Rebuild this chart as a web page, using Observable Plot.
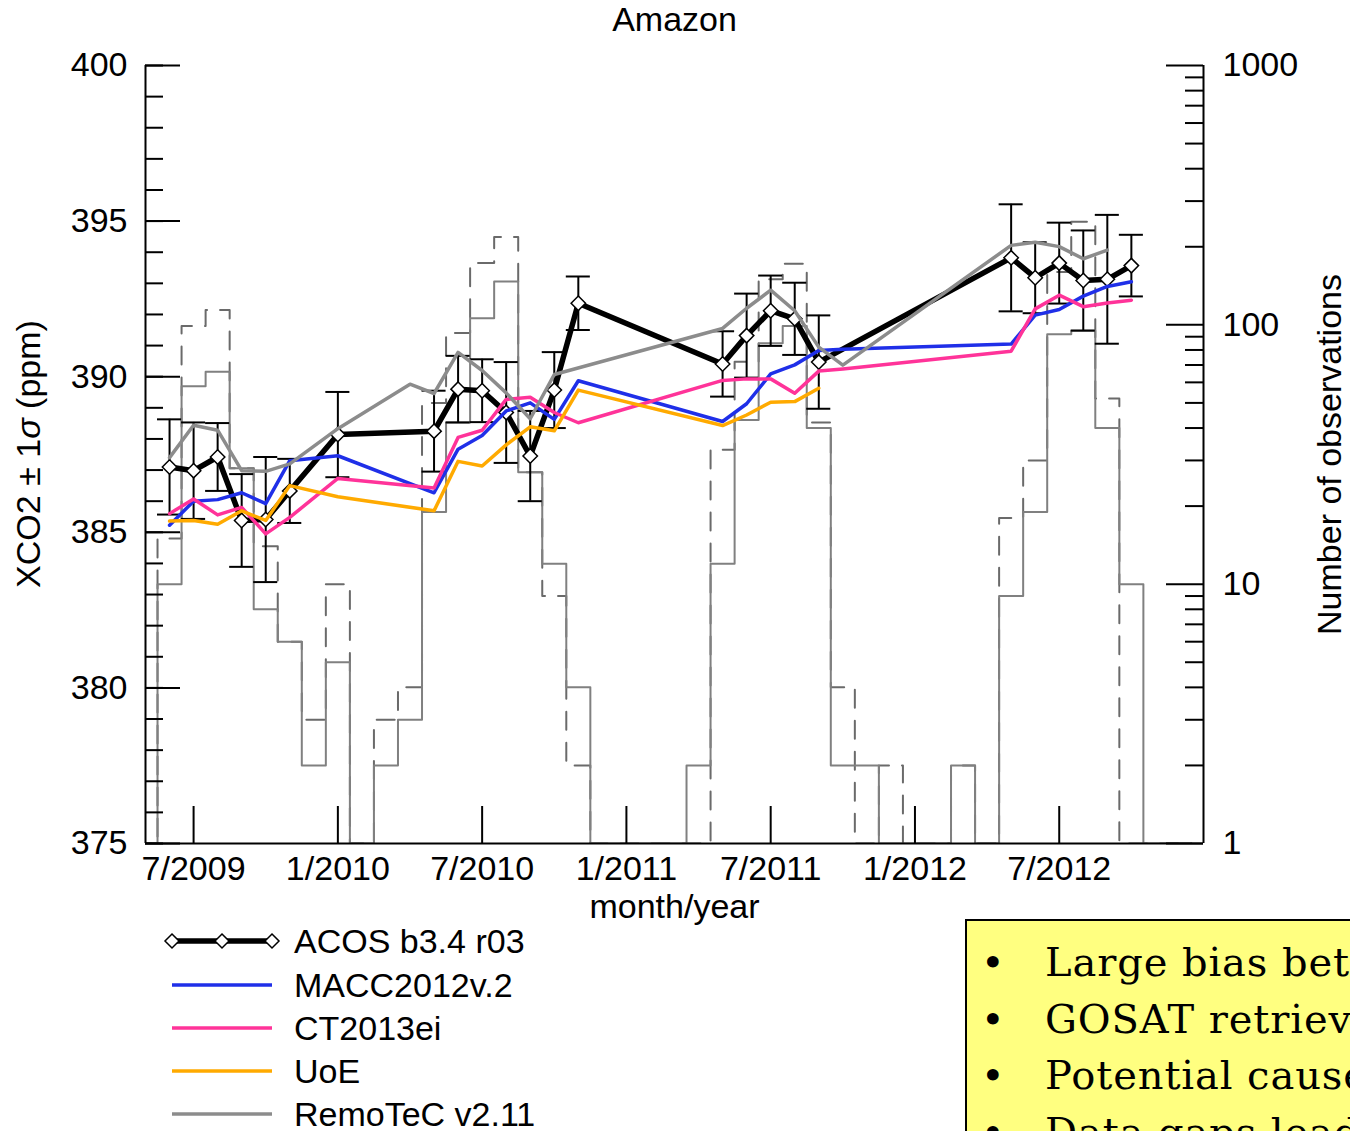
<!DOCTYPE html>
<html>
<head>
<meta charset="utf-8">
<script src="https://cdn.jsdelivr.net/npm/d3@7"></script>
<script src="https://cdn.jsdelivr.net/npm/@observablehq/plot@0.6"></script>
<style>
  html, body { margin: 0; padding: 0; background: #fff; overflow: hidden; }
  #wrap { position: relative; width: 1350px; height: 1131px; overflow: hidden; font-family: "Liberation Sans", Arial, sans-serif; }
  #wrap svg { position: absolute; left: 0; top: 0; max-width: none; }
  #ylab { position: absolute; left: 28px; top: 454px; transform: translate(-50%, -50%) rotate(-90deg); font-size: 34px; white-space: nowrap; color: #000; }
  #box { position: absolute; left: 965px; top: 919px; width: 600px; height: 400px; background: #ffff80; border: 2.5px solid #000; font-family: "DejaVu Serif", serif; font-size: 40px; letter-spacing: 0.9px; color: #000; }
  #box .b { position: absolute; line-height: 1; white-space: nowrap; }
</style>
</head>
<body>
<div id="wrap"></div>
<script>
// ---------- data ----------
// month labels as YYYY-MM
const acosMonths = ["2009-06","2009-07","2009-08","2009-09","2009-10","2009-11","2010-01",
  "2010-05","2010-06","2010-07","2010-08","2010-09","2010-10","2010-11",
  "2011-05","2011-06","2011-07","2011-08","2011-09",
  "2012-05","2012-06","2012-07","2012-08","2012-09","2012-10"];
const acosXCO2 = [387.10, 386.98, 387.42, 385.38, 385.41, 386.33, 388.14,
  388.25, 389.60, 389.55, 388.85, 387.45, 389.57, 392.36,
  390.41, 391.32, 392.12, 391.86, 390.47,
  393.82, 393.18, 393.65, 393.09, 393.13, 393.57];
const acosSigma = [1.53, 1.55, 1.09, 1.49, 2.01, 1.03, 1.37,
  1.30, 1.07, 1.01, 1.62, 1.45, 1.22, 0.86,
  1.05, 1.35, 1.13, 1.16, 1.50,
  1.72, 1.14, 1.30, 1.61, 2.07, 0.99];

const modelMonths = ["2009-06","2009-07","2009-08","2009-09","2009-10","2009-11","2010-01",
  "2010-05","2010-06","2010-07","2010-08","2010-09","2010-10","2010-11",
  "2011-05","2011-06","2011-07","2011-08","2011-09","2011-10",
  "2012-05","2012-06","2012-07","2012-08","2012-09","2012-10"];
const maccXCO2 = [385.23, 386.00, 386.05, 386.27, 385.92, 387.30, 387.46,
  386.27, 387.67, 388.11, 388.90, 389.16, 388.63, 389.87,
  388.56, 389.13, 390.09, 390.38, 390.84, 390.88,
  391.05, 391.98, 392.16, 392.59, 392.90, 393.05];
const ctXCO2 = [385.60, 386.07, 385.56, 385.80, 384.95, 385.48, 386.73,
  386.42, 388.05, 388.28, 389.27, 389.34, 388.85, 388.52,
  389.88, 389.93, 389.93, 389.47, 390.18, 390.25,
  390.82, 392.18, 392.62, 392.25, 392.37, 392.46];

const uoeMonths = ["2009-06","2009-07","2009-08","2009-09","2009-10","2009-11","2010-01",
  "2010-05","2010-06","2010-07","2010-08","2010-09","2010-10","2010-11",
  "2011-05","2011-06","2011-07","2011-08","2011-09"];
const uoeXCO2 = [385.36, 385.38, 385.26, 385.69, 385.38, 386.50, 386.14,
  385.69, 387.28, 387.13, 387.81, 388.39, 388.26, 389.57,
  388.43, 388.77, 389.18, 389.20, 389.63];

const remotecMonths = ["2009-06","2009-07","2009-08","2009-09","2009-10","2009-11","2010-01",
  "2010-04","2010-05","2010-06","2010-07","2010-08","2010-09","2010-10",
  "2011-05","2011-06","2011-07","2011-08","2011-09","2011-10",
  "2012-05","2012-06","2012-07","2012-08","2012-09"];
const remotecXCO2 = [387.40, 388.44, 388.28, 386.98, 386.96, 387.20, 388.33,
  389.76, 389.46, 390.78, 390.20, 389.48, 388.65, 390.07,
  391.55, 392.20, 392.78, 392.12, 390.95, 390.37,
  394.22, 394.32, 394.18, 393.79, 394.07];

// monthly number of observations, May 2009 .. Dec 2012
const histStartMonth = "2009-05";
const obsSolid = [0, 10, 58, 66, 28, 8, 6, 2, 5, 0, 2, 3,
  19, 42, 106, 147, 27, 12, 4, 0, 0, 0, 0, 2,
  12, 43, 85, 99, 40, 2, 2, 0, 0, 0, 2, 0,
  9, 19, 92, 95, 40, 10, 0, 0];
const obsDashed = [0, 15, 99, 114, 28, 14, 6, 3, 10, 0, 3, 4,
  50, 93, 173, 218, 27, 9, 2, 0, 0, 0, 0, 0,
  33, 72, 150, 172, 42, 4, 0, 2, 0, 0, 2, 0,
  18, 30, 160, 250, 52, 0, 0, 0];

const xTickMonths = ["2009-07","2010-01","2010-07","2011-01","2011-07","2012-01","2012-07"];
const ppmTicks = [375, 380, 385, 390, 395, 400];
const obsTicks = [1, 10, 100, 1000];

const seriesNames = ["ACOS b3.4 r03", "MACC2012v.2", "CT2013ei", "UoE", "RemoTeC v2.11"];
const seriesColors = ["#000000", "#1f2fe8", "#ff3399", "#ffaa00", "#8c8c8c"];

const bullets = ["Large bias between models and GOSAT over the Amazon",
  "GOSAT retrievals differ in seasonal cycle",
  "Potential causes: aerosols and clouds",
  "Data gaps lead to sampling biases"];

// ---------- helpers ----------
const mIdx = s => { const [y, m] = s.split("-").map(Number); return (y - 2009) * 12 + (m - 1); };
const fmtMonth = i => `${(i % 12) + 1}/${2009 + Math.floor(i / 12)}`;
const series = (months, vals) => months.map((m, i) => ({x: mIdx(m), y: vals[i]}));
const h0 = mIdx(histStartMonth);
const steps = counts => counts.flatMap((c, i) => {
  const v = Math.max(c, 1);
  return [{x: h0 + i - 0.5, y: v}, {x: h0 + i + 0.5, y: v}];
});

const acos = acosMonths.map((m, i) => ({x: mIdx(m), y: acosXCO2[i], s: acosSigma[i]}));
const W = 1350, H = 920, ML = 145, MR = 147, MT = 65, MB = 77;
const FW = W - ML - MR, FH = H - MT - MB;
const xDomain = [mIdx("2009-05"), mIdx("2013-01")];
const font = {fontFamily: "'Liberation Sans', Arial, sans-serif", fontSize: "34px", background: "transparent", overflow: "visible", color: "#000"};

// ---------- histogram layer (right log axis) ----------
const minorLog = [2,3,4,5,6,7,8,9].flatMap(d => [d, d * 10, d * 100]);
const histPlot = Plot.plot({
  width: W, height: H, marginLeft: ML, marginRight: MR, marginTop: MT, marginBottom: MB,
  style: font,
  x: {domain: xDomain, axis: null},
  y: {type: "log", domain: [1, 1000], axis: null},
  marks: [
    Plot.line(steps(obsDashed), {x: "x", y: "y", stroke: "#6a6a6a", strokeWidth: 2, strokeDasharray: "18,13", clip: true}),
    Plot.line(steps(obsSolid), {x: "x", y: "y", stroke: "#808080", strokeWidth: 2, clip: true}),
    Plot.ruleX([xDomain[1]], {stroke: "#000", strokeWidth: 2}),
    Plot.ruleY(obsTicks, {insetLeft: FW - 37, stroke: "#000", strokeWidth: 2}),
    Plot.ruleY(minorLog, {insetLeft: FW - 18, stroke: "#000", strokeWidth: 2}),
    Plot.axisY({anchor: "right", ticks: obsTicks, tickFormat: d3.format("d"), tickSize: 0, tickPadding: 19, label: null}),
    Plot.text(["Number of observations"], {frameAnchor: "right", dx: 127, rotate: -90, textAnchor: "middle", lineAnchor: "middle"})
  ]
});

// ---------- main layer (left ppm axis) ----------
const mainPlot = Plot.plot({
  width: W, height: H, marginLeft: ML, marginRight: MR, marginTop: MT, marginBottom: MB,
  style: font,
  x: {domain: xDomain, axis: null},
  y: {domain: [375, 400], axis: null},
  marks: [
    Plot.ruleX([xDomain[0]], {stroke: "#000", strokeWidth: 2}),
    Plot.ruleY([375], {stroke: "#000", strokeWidth: 2}),
    Plot.ruleY(ppmTicks, {insetRight: FW - 35, stroke: "#000", strokeWidth: 2}),
    Plot.ruleY(d3.range(375, 401, 1), {insetRight: FW - 18, stroke: "#000", strokeWidth: 2}),
    Plot.ruleX(xTickMonths.map(mIdx), {insetTop: FH - 37, stroke: "#000", strokeWidth: 2}),
    Plot.axisY({anchor: "left", ticks: ppmTicks, tickSize: 0, tickPadding: 18, label: null}),
    Plot.axisX({anchor: "bottom", ticks: xTickMonths.map(mIdx), tickFormat: fmtMonth, tickSize: 0, tickPadding: 12, label: null}),
    Plot.text(["month/year"], {frameAnchor: "bottom", dy: 64, lineAnchor: "middle"}),
    Plot.text(["Amazon"], {frameAnchor: "top", dy: -45, lineAnchor: "middle"}),
    // ACOS
    Plot.ruleX(acos, {x: "x", y1: d => d.y - d.s, y2: d => d.y + d.s, stroke: "#000", strokeWidth: 2}),
    Plot.ruleY(acos, {y: d => d.y + d.s, x1: d => d.x - 0.5, x2: d => d.x + 0.5, stroke: "#000", strokeWidth: 2}),
    Plot.ruleY(acos, {y: d => d.y - d.s, x1: d => d.x - 0.5, x2: d => d.x + 0.5, stroke: "#000", strokeWidth: 2}),
    Plot.line(acos, {x: "x", y: "y", stroke: seriesColors[0], strokeWidth: 5.5}),
    Plot.dot(acos, {x: "x", y: "y", symbol: "diamond2", r: 6.5, fill: "#fff", stroke: "#000", strokeWidth: 1.5}),
    // models / retrievals
    Plot.line(series(modelMonths, maccXCO2), {x: "x", y: "y", stroke: seriesColors[1], strokeWidth: 3.5}),
    Plot.line(series(modelMonths, ctXCO2), {x: "x", y: "y", stroke: seriesColors[2], strokeWidth: 3.5}),
    Plot.line(series(uoeMonths, uoeXCO2), {x: "x", y: "y", stroke: seriesColors[3], strokeWidth: 3.5}),
    Plot.line(series(remotecMonths, remotecXCO2), {x: "x", y: "y", stroke: seriesColors[4], strokeWidth: 3.5})
  ]
});

const wrap = document.getElementById("wrap");
wrap.appendChild(histPlot);
wrap.appendChild(mainPlot);

// y label
const yl = document.createElement("div");
yl.id = "ylab";
yl.innerHTML = "XCO2 ± 1<i>σ</i> (ppm)";
wrap.appendChild(yl);

// legend (below the chart SVG)
const leg = d3.create("svg").attr("width", 560).attr("height", 211)
  .style("top", "920px").style("left", "0px")
  .style("font-family", "'Liberation Sans', Arial, sans-serif").style("font-size", "34px");
const rowY = [21, 65, 108, 151, 194];
seriesNames.forEach((name, i) => {
  leg.append("line").attr("x1", 172).attr("x2", 272).attr("y1", rowY[i]).attr("y2", rowY[i])
    .attr("stroke", seriesColors[i]).attr("stroke-width", i === 0 ? 5.5 : 3.5);
  if (i === 0) {
    [172, 222, 272].forEach(cx => leg.append("path")
      .attr("d", `M${cx},${rowY[i] - 7}L${cx + 7},${rowY[i]}L${cx},${rowY[i] + 7}L${cx - 7},${rowY[i]}Z`)
      .attr("fill", "#fff").attr("stroke", "#000").attr("stroke-width", 1.5));
  }
  leg.append("text").attr("x", 294).attr("y", rowY[i]).attr("dy", "0.35em").attr("fill", "#000").text(name);
});
wrap.appendChild(leg.node());

// yellow note box
const box = document.createElement("div");
box.id = "box";
bullets.forEach((t, i) => {
  const top = 21 + i * 56.7;
  const b = document.createElement("span");
  b.className = "b"; b.style.left = "14px"; b.style.top = top + "px"; b.textContent = "•";
  const s = document.createElement("span");
  s.className = "b"; s.style.left = "78px"; s.style.top = top + "px"; s.textContent = t;
  box.appendChild(b); box.appendChild(s);
});
wrap.appendChild(box);
</script>
</body>
</html>
